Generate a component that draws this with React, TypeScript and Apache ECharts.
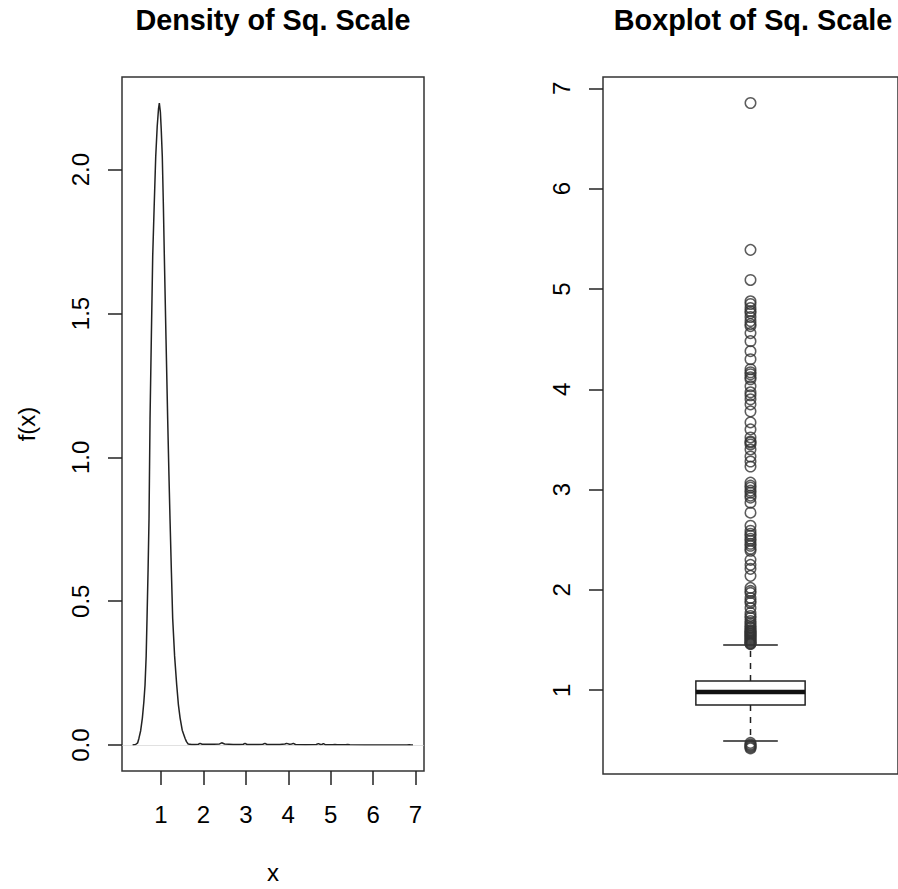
import React, { useEffect, useRef } from "react";
import * as echarts from "echarts";

// ---- data ----
const densityX = [
  0.33, 0.4, 0.45, 0.48, 0.52, 0.56, 0.595, 0.623, 0.65, 0.67, 0.695, 0.717, 0.741, 0.772, 0.804,
  0.84, 0.875, 0.91, 0.94, 0.96, 0.985, 1.005, 1.03, 1.055, 1.078, 1.118, 1.157, 1.185, 1.212,
  1.245, 1.275, 1.32, 1.37, 1.41, 1.45, 1.5, 1.566, 1.6, 1.64, 1.72, 1.8, 1.88, 1.92, 1.97, 2.1,
  2.25, 2.38, 2.43, 2.5, 2.7, 2.85, 2.94, 2.98, 3.03, 3.3, 3.4, 3.45, 3.5, 3.8, 3.92, 3.96, 4.03,
  4.08, 4.12, 4.17, 4.4, 4.66, 4.71, 4.76, 4.8, 4.83, 4.88, 5.05, 5.1, 5.15, 5.35, 5.4, 5.45, 5.8,
  6.3, 6.8, 6.85, 6.9, 6.94,
];
const densityY = [
  0.0, 0.002, 0.008, 0.024, 0.05, 0.094, 0.15, 0.209, 0.31, 0.44, 0.61, 0.787, 1.133, 1.42, 1.7,
  1.88, 2.046, 2.15, 2.21, 2.231, 2.2, 2.14, 2.046, 1.88, 1.7, 1.41, 1.133, 0.95, 0.787, 0.6, 0.44,
  0.31, 0.209, 0.14, 0.094, 0.052, 0.024, 0.012, 0.004, 0.002, 0.002, 0.003, 0.006, 0.003, 0.003,
  0.003, 0.004, 0.008, 0.004, 0.002, 0.002, 0.003, 0.006, 0.002, 0.002, 0.003, 0.006, 0.002,
  0.002, 0.004, 0.006, 0.003, 0.004, 0.006, 0.002, 0.001, 0.002, 0.005, 0.002, 0.003, 0.005,
  0.001, 0.001, 0.002, 0.001, 0.001, 0.002, 0.001, 0.0, 0.0, 0.0, 0.001, 0.0, 0.0,
];
const xTicks = [1, 2, 3, 4, 5, 6, 7];
const densityTicks = [0, 0.5, 1, 1.5, 2];
const boxTicks = [1, 2, 3, 4, 5, 6, 7];
// lower whisker, Q1, median, Q3, upper whisker
const boxStats = [0.495, 0.854, 0.983, 1.093, 1.45];
const upperOutliers = [
  6.854, 5.39, 5.09, 4.877, 4.85, 4.81, 4.78, 4.76, 4.72, 4.68, 4.65, 4.63, 4.56, 4.48, 4.38, 4.3,
  4.2, 4.17, 4.15, 4.12, 4.1, 4.03, 3.97, 3.94, 3.9, 3.85, 3.78, 3.67, 3.6, 3.52, 3.48, 3.47, 3.45,
  3.4, 3.33, 3.28, 3.23, 3.07, 3.04, 3.02, 2.99, 2.97, 2.94, 2.92, 2.87, 2.77, 2.64, 2.59, 2.56,
  2.54, 2.51, 2.49, 2.46, 2.44, 2.41, 2.39, 2.3, 2.25, 2.21, 2.14, 2.02, 1.99, 1.97, 1.92, 1.89,
  1.87, 1.82, 1.77, 1.74, 1.72, 1.69, 1.67, 1.65, 1.63, 1.62, 1.6, 1.59, 1.58, 1.57, 1.56, 1.55,
  1.54, 1.53, 1.52, 1.51, 1.5, 1.49, 1.48, 1.47, 1.465, 1.46,
];
const lowerOutliers = [0.475, 0.46, 0.45, 0.44, 0.43, 0.42];
const titles = ["Density of Sq. Scale", "Boxplot of Sq. Scale"];
const xName = "x";
const yName = "f(x)";

const FONT = "'Liberation Sans', Arial, Helvetica, sans-serif";

export default function App() {
  const ref = useRef<HTMLDivElement>(null);

  useEffect(() => {
    const chart = echarts.init(ref.current!, null, { renderer: "svg" });
    const tick = (vals: number[]) => ({
      show: true,
      inside: false,
      length: 14,
      customValues: vals,
      lineStyle: { color: "#222", width: 1.5 },
    });
    const label = { fontSize: 24, color: "#000", fontFamily: FONT };

    const option: any = {
      animation: false,
      backgroundColor: "#fff",
      grid: [
        { left: 122, top: 77, width: 302, height: 696, show: true, borderColor: "#333", borderWidth: 1.5, backgroundColor: "transparent" },
        { left: 603, top: 77, width: 300, height: 697, show: true, borderColor: "#333", borderWidth: 1.5, backgroundColor: "transparent" },
      ],
      xAxis: [
        {
          gridIndex: 0,
          type: "value",
          min: 0.08,
          max: 7.2,
          axisLine: { show: false, onZero: false },
          splitLine: { show: false },
          axisTick: tick(xTicks),
          axisLabel: { ...label, customValues: xTicks, margin: 31 },
          name: xName,
          nameLocation: "middle",
          nameGap: 89,
          nameTextStyle: label,
        },
        { gridIndex: 1, type: "value", min: 0.46, max: 1.54, show: false, axisLine: { onZero: false } },
      ],
      yAxis: [
        {
          gridIndex: 0,
          type: "value",
          min: -0.09,
          max: 2.322,
          axisLine: { show: false, onZero: false },
          splitLine: { show: false },
          axisTick: tick(densityTicks),
          axisLabel: { ...label, customValues: densityTicks, rotate: 90, margin: 30, formatter: (v: number) => v.toFixed(1) },
          name: yName,
          nameLocation: "middle",
          nameGap: 84,
          nameRotate: 90,
          nameTextStyle: label,
        },
        {
          gridIndex: 1,
          type: "value",
          min: 0.165,
          max: 7.113,
          axisLine: { show: false, onZero: false },
          splitLine: { show: false },
          axisTick: tick(boxTicks),
          axisLabel: { ...label, customValues: boxTicks, rotate: 90, margin: 30 },
        },
      ],
      graphic: [
        { type: "text", x: 273, y: 20, style: { text: titles[0], fill: "#000", fontSize: 28.8, fontWeight: "bold", fontFamily: FONT, align: "center", verticalAlign: "middle" } },
        { type: "text", x: 753, y: 20, style: { text: titles[1], fill: "#000", fontSize: 28.8, fontWeight: "bold", fontFamily: FONT, align: "center", verticalAlign: "middle" } },
      ],
      series: [
        {
          type: "line",
          xAxisIndex: 0,
          yAxisIndex: 0,
          data: densityX.map((x, i) => [x, densityY[i]]),
          showSymbol: false,
          symbol: "none",
          lineStyle: { color: "#222", width: 1.5 },
          z: 3,
          markLine: {
            silent: true,
            symbol: "none",
            label: { show: false },
            lineStyle: { color: "#ccc", width: 0.6, type: "solid" },
            data: [{ yAxis: 0 }],
          },
        },
        {
          type: "custom",
          xAxisIndex: 1,
          yAxisIndex: 1,
          data: [[1, ...boxStats]],
          renderItem: (params: any, api: any) => {
            const x = api.value(0);
            const lw = api.value(1);
            const q1 = api.value(2);
            const med = api.value(3);
            const q3 = api.value(4);
            const uw = api.value(5);
            const half = 0.2;
            const cap = 0.1;
            const [xl, yq3] = api.coord([x - half, q3]);
            const [xr, yq1] = api.coord([x + half, q1]);
            const ymed = api.coord([x, med])[1];
            const [xc, yuw] = api.coord([x, uw]);
            const ylw = api.coord([x, lw])[1];
            const cl = api.coord([x - cap, med])[0];
            const cr = api.coord([x + cap, med])[0];
            const solid = { stroke: "#222", lineWidth: 1.5 };
            const dashed = { stroke: "#222", lineWidth: 1.5, lineDash: [6, 6] };
            return {
              type: "group",
              children: [
                { type: "line", shape: { x1: xc, y1: yq3, x2: xc, y2: yuw }, style: dashed },
                { type: "line", shape: { x1: xc, y1: yq1, x2: xc, y2: ylw }, style: dashed },
                { type: "line", shape: { x1: cl, y1: yuw, x2: cr, y2: yuw }, style: solid },
                { type: "line", shape: { x1: cl, y1: ylw, x2: cr, y2: ylw }, style: solid },
                { type: "rect", shape: { x: xl, y: yq3, width: xr - xl, height: yq1 - yq3 }, style: { fill: "none", stroke: "#222", lineWidth: 1.5 } },
                { type: "line", shape: { x1: xl, y1: ymed, x2: xr, y2: ymed }, style: { stroke: "#111", lineWidth: 4.5 } },
              ],
            };
          },
          z: 3,
        },
        {
          type: "scatter",
          xAxisIndex: 1,
          yAxisIndex: 1,
          data: [...upperOutliers, ...lowerOutliers].map((v) => [1, v]),
          symbol: "circle",
          symbolSize: 10.5,
          itemStyle: { color: "rgba(0,0,0,0)", borderColor: "#333", borderWidth: 1.5 },
          z: 4,
        },
      ],
    };

    chart.setOption(option);
    return () => chart.dispose();
  }, []);

  return (
    <div
      ref={ref}
      style={{ position: "absolute", left: 0, top: 0, width: 898, height: 889, background: "#fff" }}
    />
  );
}
